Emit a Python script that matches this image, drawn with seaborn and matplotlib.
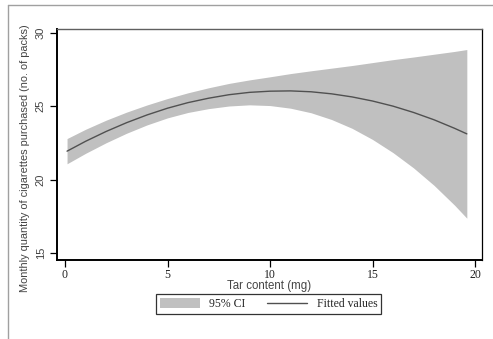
import matplotlib
matplotlib.use("Agg")
import matplotlib.pyplot as plt
import seaborn as sns
import pandas as pd
from matplotlib.patches import Patch
from matplotlib.lines import Line2D

# Data
tar = [0.1, 1, 2, 3, 4, 5, 6, 7, 8, 9, 10, 11, 12, 13, 14, 15, 16, 17, 18, 19, 19.6]
fitted = [21.94, 22.61, 23.28, 23.88, 24.41, 24.87, 25.25, 25.55, 25.79, 25.95, 26.03,
          26.05, 25.99, 25.85, 25.64, 25.36, 25.01, 24.58, 24.08, 23.50, 23.12]
ci_upper = [22.80, 23.43, 24.05, 24.60, 25.09, 25.53, 25.92, 26.26, 26.56, 26.80, 27.01,
            27.23, 27.42, 27.60, 27.78, 27.98, 28.18, 28.36, 28.55, 28.74, 28.87]
ci_lower = [21.08, 21.79, 22.51, 23.16, 23.73, 24.21, 24.58, 24.84, 25.02, 25.10, 25.05,
            24.87, 24.56, 24.10, 23.50, 22.74, 21.84, 20.80, 19.61, 18.26, 17.37]

x_ticks = [0, 5, 10, 15, 20]
y_ticks = [15, 20, 25, 30]

df = pd.DataFrame({"tar": tar, "fitted": fitted, "lo": ci_lower, "hi": ci_upper})

sns.set_style("white")
plt.rcParams["font.family"] = ["Liberation Sans", "DejaVu Sans"]

fig = plt.figure(figsize=(4.93, 3.39), dpi=100)
ax = fig.add_axes([57 / 493, 1 - 260 / 339, (482 - 57) / 493, (260 - 29) / 339])

ax.fill_between(df["tar"], df["lo"], df["hi"], color="#c0c0c0", linewidth=0)
sns.lineplot(data=df, x="tar", y="fitted", ax=ax, color="#505050", linewidth=1.0)

ax.set_xlim(-0.39, 20.34)
ax.set_ylim(14.52, 30.27)
ax.set_xticks(x_ticks)
ax.set_yticks(y_ticks)
ax.set_xticklabels([str(v) for v in x_ticks], family=["Liberation Serif"], fontsize=8.5, color="#222")
ax.set_yticklabels([str(v) for v in y_ticks], rotation=90, va="center", fontsize=8, color="#444")
ax.tick_params(axis="x", direction="out", length=5, width=0.9, color="black", pad=1.5, bottom=True)
ax.tick_params(axis="y", direction="out", length=5, width=0.9, color="black", pad=3, left=True)

ax.set_xlabel("Tar content (mg)", fontsize=8.3, color="#444", family=["Liberation Sans"])
ax.xaxis.set_label_coords((269 - 57) / 425, (260 - 286) / 231)
ax.xaxis.label.set_va("center")
ax.set_ylabel("Monthly quantity of cigarettes purchased (no. of packs)", fontsize=7.9, color="#444",
              family=["Liberation Sans"])
ax.yaxis.set_label_coords((25 - 57) / 425, (260 - 158) / 231)
ax.yaxis.label.set_va("center")

for side in ["left", "bottom"]:
    ax.spines[side].set_color("black")
    ax.spines[side].set_linewidth(1.4)
ax.spines["top"].set_color("#606060")
ax.spines["top"].set_linewidth(1.0)
ax.spines["right"].set_color("black")
ax.spines["right"].set_linewidth(0.9)

handles = [Patch(facecolor="#c0c0c0", edgecolor="none", label="95% CI"),
           Line2D([0], [0], color="#505050", linewidth=1.0, label="Fitted values")]
leg = fig.legend(handles=handles, loc="center", bbox_to_anchor=(268.5 / 493, 1 - 304 / 339),
                 ncol=2, frameon=True, fancybox=False, prop={"family": "Liberation Serif", "size": 8.5},
                 handlelength=3.4, handleheight=1.0, handletextpad=0.8, columnspacing=1.8,
                 borderpad=0.35, borderaxespad=0)
leg.get_frame().set_edgecolor("black")
leg.get_frame().set_linewidth(0.9)

# outer frame lines
fig.add_artist(Line2D([8 / 493, 1.0], [1 - 5 / 339, 1 - 5 / 339], color="#a0a0a0", linewidth=1.0, transform=fig.transFigure))
fig.add_artist(Line2D([8 / 493, 8 / 493], [0, 1 - 5 / 339], color="#a0a0a0", linewidth=1.0, transform=fig.transFigure))

fig.savefig("out.png", dpi=100)
